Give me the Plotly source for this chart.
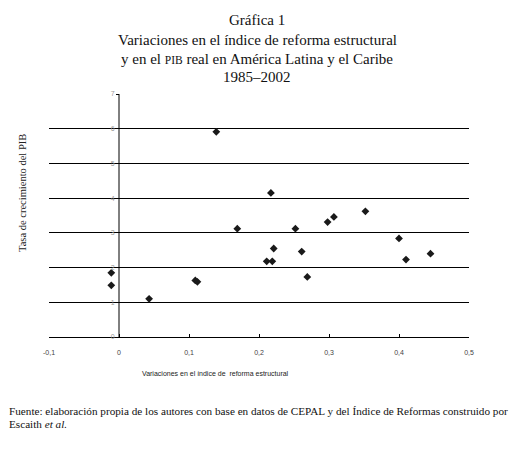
import plotly.graph_objects as go

# Data
reform_change = [-0.011, -0.011, 0.043, 0.109, 0.112, 0.139, 0.169, 0.211, 0.219,
                 0.221, 0.217, 0.252, 0.261, 0.269, 0.298, 0.307, 0.352, 0.400, 0.410, 0.445]
gdp_growth = [1.85, 1.49, 1.10, 1.63, 1.59, 5.91, 3.12, 2.18, 2.18,
              2.55, 4.15, 3.12, 2.46, 1.73, 3.31, 3.46, 3.62, 2.84, 2.23, 2.40]

x_range = [-0.1, 0.5]
y_range = [0, 7]
x_ticks = [-0.1, 0, 0.1, 0.2, 0.3, 0.4, 0.5]
x_tick_labels = ["-0,1", "0", "0,1", "0,2", "0,3", "0,4", "0,5"]
y_ticks = [0, 1, 2, 3, 4, 5, 6, 7]
grid_values = [1, 2, 3, 4, 5, 6]

title_lines = ["Gráfica 1",
               "Variaciones en el índice de reforma estructural",
               "y en el <span style='font-size:11.5px'>PIB</span> real en América Latina y el Caribe",
               "1985–2002"]
x_title = "Variaciones en el índice de  reforma estructural"
y_title = "Tasa de crecimiento del PIB"
source_lines = ["Fuente: elaboración propia de los autores con base en datos de CEPAL y del Índice de Reformas construido por",
                "Escaith <i>et al.</i>"]

ML, MR, MT, MB = 49, 50, 94, 115
W, H = 519, 452
PH = H - MT - MB
PW = W - ML - MR


def py(ypx):
    return (H - MB - ypx) / PH


def px(xpx):
    return (xpx - ML) / PW


fig = go.Figure()
fig.add_trace(go.Scatter(
    x=reform_change, y=gdp_growth, mode="markers",
    marker=dict(symbol="diamond", size=6, color="#1a1a1a"),
    showlegend=False, hoverinfo="x+y"))
fig.add_trace(go.Scatter(x=[None], y=[None], yaxis="y2", showlegend=False))

# vertical axis line at x = 0
fig.add_shape(type="line", xref="x", yref="y", x0=0, x1=0, y0=y_range[0], y1=y_range[1],
              line=dict(color="black", width=1), layer="above")

serif = "Liberation Serif, Times New Roman, serif"
sans = "Liberation Sans Narrow, Liberation Sans, Arial, sans-serif"

fig.update_layout(
    width=W, height=H,
    margin=dict(l=ML, r=MR, t=MT, b=MB, autoexpand=False),
    paper_bgcolor="white", plot_bgcolor="white",
    xaxis=dict(range=x_range, tickvals=x_ticks, ticktext=x_tick_labels,
               showgrid=False, zeroline=False,
               showline=True, linecolor="black",
               linewidth=1, ticks="inside", ticklen=3, tickcolor="black",
               tickfont=dict(family=sans, size=7, color="#444"),
               ticklabelstandoff=9, domain=[0, 1], automargin=False),
    yaxis=dict(range=y_range, tickvals=y_ticks, showgrid=False, zeroline=False,
               showline=False, anchor="free", automargin=False,
               position=(0 - x_range[0]) / (x_range[1] - x_range[0]),
               ticks="outside", ticklen=3, tickcolor="black",
               tickfont=dict(family=sans, size=7, color="#999")),
    yaxis2=dict(range=y_range, overlaying="y", tickvals=grid_values, showgrid=True,
                gridcolor="black", gridwidth=1, showticklabels=False, zeroline=False,
                showline=False, ticks="", automargin=False),
    annotations=[
        dict(text=x_title, x=px(215), y=py(373), xref="paper", yref="paper",
             showarrow=False, font=dict(family=sans, size=7, color="#222"),
             xanchor="center", yanchor="middle"),
        dict(text=y_title, x=px(22), y=py(193), xref="paper", yref="paper",
             showarrow=False, textangle=-90, font=dict(family=serif, size=10.5, color="#222"),
             xanchor="center", yanchor="middle"),
    ] + [
        dict(text=t, x=px(257), y=py(ypos), xref="paper", yref="paper", showarrow=False,
             font=dict(family=serif, size=15, color="#111"), xanchor="center", yanchor="middle")
        for t, ypos in zip(title_lines, [20, 40, 59, 77])
    ] + [
        dict(text=t, x=px(7), y=py(ypos), xref="paper", yref="paper", showarrow=False,
             font=dict(family=serif, size=11.2, color="#111"), xanchor="left", yanchor="middle")
        for t, ypos in zip(source_lines, [411, 424])
    ],
)

fig.write_html("out.html", config={"displayModeBar": False},
               post_script="document.body.style.margin='0';")
